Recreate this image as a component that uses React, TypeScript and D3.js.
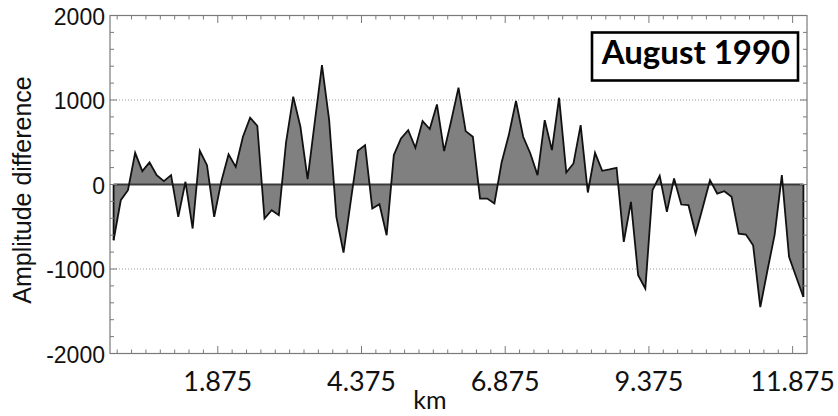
import React from "react";
import * as d3 from "d3";

// Amplitude difference sampled every 0.125 km (first sample at 0.0625 km)
const amplitudeDiff: number[] = [
  -660, -186, -67, 375, 158, 261, 111, 40, 111, -383,
  32, -521, 399, 229, -383, 40, 356, 209, 565, 790,
  695, -403, -304, -363, 500, 1039, 683, 63, 740, 1414,
  762, -383, -806, -200, 399, 466, -284, -233, -600, 348,
  545, 644, 435, 750, 656, 948, 395, 760, 1146, 632,
  565, -166, -166, -225, 261, 585, 988, 565, 367, 111,
  762, 407, 1027, 142, 249, 703, -95, 375, 162, 178,
  198, -679, -205, -1074, -1232, -67, 103, -324, 71, -237,
  -245, -581, -270, 51, -107, -79, -146, -581, -593, -719,
  -1450, -1015, -593, 111, -857, -1094, -1331,
];
const sampleStartKm = 0.0625;
const sampleStepKm = 0.125;
const kmPositions: number[] = amplitudeDiff.map((_, i) => sampleStartKm + i * sampleStepKm);

const xTickValues: number[] = [1.875, 4.375, 6.875, 9.375, 11.875];
const xTickLabels: string[] = ["1.875", "4.375", "6.875", "9.375", "11.875"];
const yTickValues: number[] = [-2000, -1000, 0, 1000, 2000];
const yGridValues: number[] = [-1000, 1000];
const titleText = "August 1990";
const xLabel = "km";
const yLabel = "Amplitude difference";

const W = 838;
const H = 416;
const L = 110, R = 807, T = 15.5, B = 353.5;

export default function App() {
  const x = d3.scaleLinear().domain([0, 12.125]).range([L, R]);
  const y = d3.scaleLinear().domain([-2000, 2000]).range([B, T]);
  const pts = amplitudeDiff.map((v, i) => [kmPositions[i], v] as [number, number]);

  const area = d3.area<[number, number]>().x(d => x(d[0])).y0(y(0)).y1(d => y(d[1]));
  const line = d3.line<[number, number]>().x(d => x(d[0])).y(d => y(d[1]));

  const minorX = d3.range(0.125, 12.125, 0.25);
  const minorY = d3.range(-1800, 2000, 200);
  const x0 = x(kmPositions[0]);
  const x1 = x(kmPositions[kmPositions.length - 1]);
  const axisColor = "#7a7a7a";

  return (
    <svg width={W} height={H} style={{ position: "absolute", left: 0, top: 0, background: "#fff" }}>
      {yGridValues.map(v => (
        <line key={"g" + v} x1={L} x2={R} y1={y(v)} y2={y(v)} stroke="#999" strokeWidth={1} strokeDasharray="1,2" />
      ))}
      <path d={area(pts) || ""} fill="#808080" stroke="none" />
      <line x1={x0} x2={x1} y1={y(0)} y2={y(0)} stroke="#3a3a3a" strokeWidth={2} />
      <line x1={x0} x2={x0} y1={y(0)} y2={y(amplitudeDiff[0])} stroke="#111" strokeWidth={1.8} />
      <line x1={x1} x2={x1} y1={y(0)} y2={y(amplitudeDiff[amplitudeDiff.length - 1])} stroke="#111" strokeWidth={1.8} />
      <path d={line(pts) || ""} fill="none" stroke="#111" strokeWidth={1.8} strokeLinejoin="miter" />
      <rect x={L} y={T} width={R - L} height={B - T} fill="none" stroke={axisColor} strokeWidth={1.2} />
      {minorX.map((v, i) => {
        const major = xTickValues.some(t => Math.abs(t - v) < 1e-6);
        const len = major ? 7.5 : 4;
        return (
          <g key={"xt" + i}>
            <line x1={x(v)} x2={x(v)} y1={B} y2={B - len} stroke={axisColor} strokeWidth={1} />
            <line x1={x(v)} x2={x(v)} y1={T} y2={T + len} stroke={axisColor} strokeWidth={1} />
          </g>
        );
      })}
      {minorY.map((v, i) => {
        const major = v % 1000 === 0;
        const len = major ? 7 : 4;
        return (
          <g key={"yt" + i}>
            <line x1={L} x2={L + len} y1={y(v)} y2={y(v)} stroke={axisColor} strokeWidth={1} />
            <line x1={R} x2={R - len} y1={y(v)} y2={y(v)} stroke={axisColor} strokeWidth={1} />
          </g>
        );
      })}
      {yTickValues.map(v => (
        <text key={"yl" + v} x={105} y={y(v) + 9} textAnchor="end" fontFamily="Liberation Sans, Arial, sans-serif" fontSize={23} fill="#111">
          {v}
        </text>
      ))}
      {xTickValues.map((v, i) => (
        <text key={"xl" + v} x={x(v)} y={391} textAnchor="middle" fontFamily="Lato, sans-serif" fontSize={27} fill="#111">
          {xTickLabels[i]}
        </text>
      ))}
      <text x={430} y={409} textAnchor="middle" fontFamily="Lato, sans-serif" fontSize={25} fill="#111">
        {xLabel}
      </text>
      <text transform={`translate(31,190) rotate(-90)`} textAnchor="middle" fontFamily="Liberation Sans, Arial, sans-serif" fontSize={25} fill="#111">
        {yLabel}
      </text>
      <rect x={592} y={32.5} width={206} height={48} fill="#fff" stroke="#000" strokeWidth={2.6} />
      <text x={696} y={64} textAnchor="middle" fontFamily="Lato, sans-serif" fontWeight="bold" fontSize={33} fill="#000">
        {titleText}
      </text>
    </svg>
  );
}
